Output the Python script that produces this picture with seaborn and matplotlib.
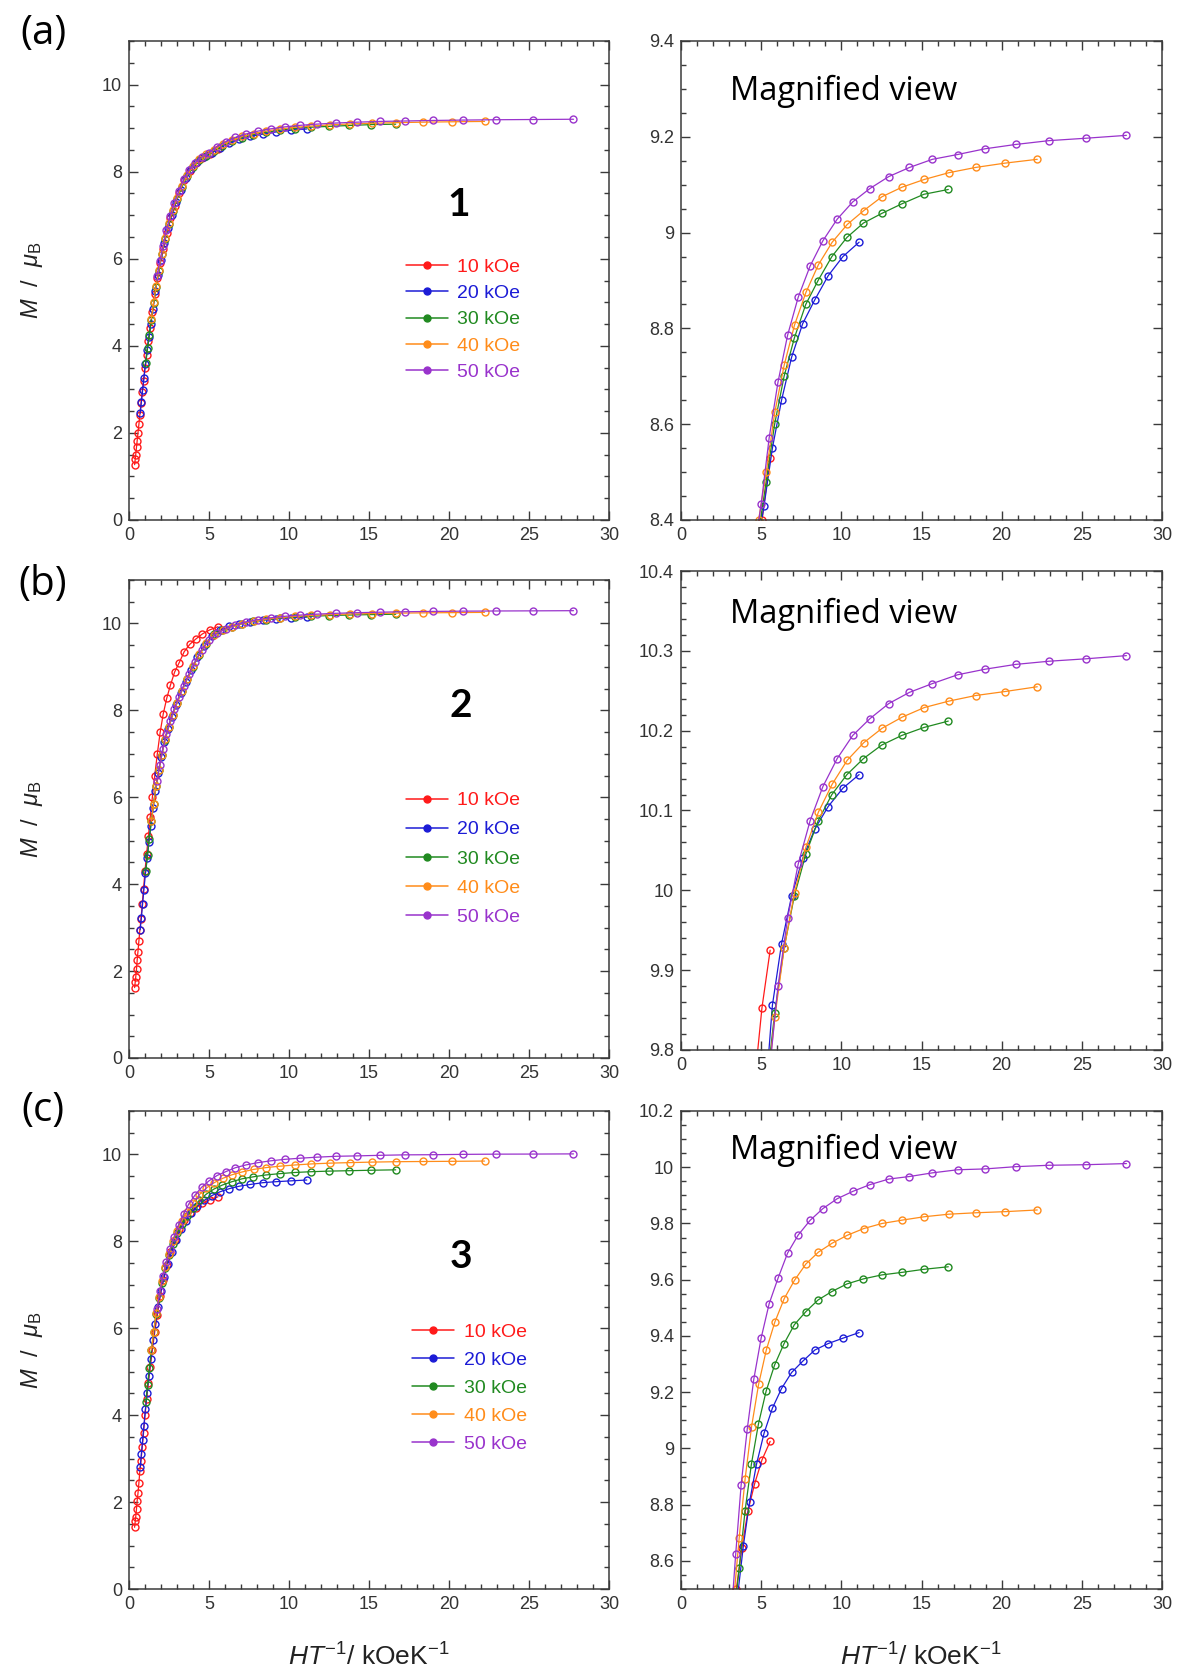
import matplotlib
matplotlib.use('Agg')
import matplotlib.pyplot as plt
import numpy as np
import pandas as pd
import seaborn as sns
from matplotlib.ticker import MultipleLocator, FuncFormatter
from matplotlib.lines import Line2D

# ---------------- data ----------------
fields = ['10 kOe', '20 kOe', '30 kOe', '40 kOe', '50 kOe']
colors = ['#ff1a1a', '#1c1cd6', '#218a21', '#ff8c1a', '#9933cc']

# H/T values (kOe/K) for each field
X10 = [0.35, 0.39, 0.42, 0.47, 0.51, 0.56, 0.62, 0.68, 0.75, 0.83, 0.91, 1.00, 1.10, 1.21, 1.33,
       1.46, 1.61, 1.77, 1.95, 2.14, 2.36, 2.59, 2.85, 3.14, 3.45, 3.80, 4.17, 4.59, 5.05, 5.56]
X20 = [0.70, 0.77, 0.85, 0.93, 1.03, 1.13, 1.24, 1.36, 1.50, 1.65, 1.82, 2.00, 2.20, 2.42, 2.66,
       2.93, 3.22, 3.54, 3.89, 4.28, 4.71, 5.18, 5.70, 6.27, 6.90, 7.59, 8.35, 9.18, 10.10, 11.11]
X30 = [1.05, 1.16, 1.27, 1.40, 1.54, 1.69, 1.86, 2.05, 2.25, 2.48, 2.73, 3.00, 3.30, 3.63, 3.99,
       4.39, 4.83, 5.31, 5.84, 6.43, 7.07, 7.78, 8.55, 9.41, 10.35, 11.38, 12.52, 13.77, 15.15, 16.67]
X40 = [1.40, 1.54, 1.70, 1.86, 2.05, 2.26, 2.48, 2.73, 3.00, 3.30, 3.63, 4.00, 4.40, 4.84, 5.32,
       5.85, 6.44, 7.08, 7.79, 8.57, 9.43, 10.37, 11.40, 12.54, 13.80, 15.18, 16.70, 18.37, 20.20, 22.22]
X50 = [1.75, 1.93, 2.12, 2.33, 2.56, 2.82, 3.10, 3.41, 3.75, 4.13, 4.54, 5.00, 5.50, 6.05, 6.65,
       7.31, 8.05, 8.85, 9.74, 10.71, 11.78, 12.96, 14.25, 15.68, 17.25, 18.97, 20.87, 22.96, 25.25, 27.78]

# compound 1
M1_10 = [1.27, 1.40, 1.50, 1.68, 1.82, 2.00, 2.20, 2.42, 2.68, 2.95, 3.20, 3.50, 3.80, 4.10, 4.42,
         4.78, 5.18, 5.55, 5.90, 6.22, 6.60, 6.93, 7.22, 7.52, 7.80, 8.02, 8.20, 8.32, 8.40, 8.53]
M1_20 = [2.45, 2.70, 2.98, 3.25, 3.58, 3.90, 4.20, 4.50, 4.85, 5.25, 5.62, 5.98, 6.35, 6.70, 7.00,
         7.30, 7.58, 7.85, 8.06, 8.22, 8.33, 8.43, 8.55, 8.65, 8.74, 8.81, 8.86, 8.91, 8.95, 8.98]
M1_30 = [3.60, 3.95, 4.25, 4.60, 4.98, 5.35, 5.72, 6.10, 6.45, 6.80, 7.10, 7.38, 7.65, 7.90, 8.10,
         8.26, 8.37, 8.48, 8.60, 8.70, 8.78, 8.85, 8.90, 8.95, 8.99, 9.02, 9.04, 9.06, 9.08, 9.09]
M1_40 = [4.62, 5.00, 5.38, 5.74, 6.12, 6.48, 6.82, 7.12, 7.40, 7.67, 7.92, 8.12, 8.28, 8.40, 8.50,
         8.625, 8.724, 8.807, 8.875, 8.933, 8.98, 9.017, 9.046, 9.075, 9.095, 9.111, 9.125, 9.136, 9.145, 9.153]
M1_50 = [5.60, 5.95, 6.30, 6.65, 6.97, 7.27, 7.55, 7.82, 8.03, 8.20, 8.33, 8.433, 8.572, 8.688, 8.786,
         8.865, 8.930, 8.983, 9.028, 9.064, 9.092, 9.117, 9.136, 9.153, 9.163, 9.175, 9.184, 9.192, 9.197, 9.203]

# compound 2
M2_10 = [1.62, 1.75, 1.86, 2.05, 2.25, 2.45, 2.70, 2.95, 3.20, 3.55, 3.90, 4.30, 4.70, 5.10, 5.55,
         6.00, 6.50, 7.00, 7.50, 7.92, 8.28, 8.58, 8.88, 9.10, 9.35, 9.52, 9.64, 9.76, 9.853, 9.925]
M2_20 = [2.95, 3.22, 3.55, 3.87, 4.25, 4.60, 4.97, 5.35, 5.75, 6.15, 6.55, 6.92, 7.28, 7.58, 7.85,
         8.12, 8.40, 8.66, 8.92, 9.22, 9.48, 9.72, 9.856, 9.933, 9.993, 10.04, 10.077, 10.105, 10.128, 10.145]
M2_30 = [4.30, 4.68, 5.05, 5.45, 5.85, 6.25, 6.62, 6.98, 7.32, 7.62, 7.90, 8.17, 8.45, 8.72, 9.00,
         9.28, 9.53, 9.75, 9.846, 9.928, 9.993, 10.045, 10.087, 10.12, 10.145, 10.165, 10.182, 10.194, 10.204, 10.212]
M2_40 = [5.45, 5.85, 6.27, 6.62, 6.98, 7.33, 7.62, 7.90, 8.17, 8.45, 8.72, 9.01, 9.29, 9.54, 9.74,
         9.841, 9.928, 9.997, 10.054, 10.098, 10.133, 10.163, 10.185, 10.203, 10.217, 10.229, 10.237, 10.244, 10.249, 10.255]
M2_50 = [6.37, 6.75, 7.12, 7.45, 7.75, 8.03, 8.30, 8.56, 8.84, 9.12, 9.40, 9.61, 9.77, 9.88, 9.965,
         10.033, 10.087, 10.130, 10.165, 10.194, 10.215, 10.234, 10.248, 10.259, 10.270, 10.277, 10.283, 10.287, 10.290, 10.294]

# compound 3
M3_10 = [1.42, 1.56, 1.66, 1.85, 2.03, 2.20, 2.45, 2.72, 2.95, 3.27, 3.60, 4.00, 4.38, 4.75, 5.10,
         5.50, 5.92, 6.30, 6.75, 7.12, 7.45, 7.75, 8.02, 8.28, 8.50, 8.646, 8.776, 8.874, 8.959, 9.025]
M3_20 = [2.80, 3.10, 3.42, 3.75, 4.15, 4.52, 4.90, 5.30, 5.72, 6.10, 6.50, 6.85, 7.18, 7.48, 7.75,
         8.02, 8.28, 8.48, 8.654, 8.811, 8.944, 9.054, 9.143, 9.213, 9.27, 9.31, 9.35, 9.373, 9.392, 9.412]
M3_30 = [4.30, 4.70, 5.08, 5.50, 5.92, 6.32, 6.70, 7.05, 7.38, 7.68, 7.95, 8.20, 8.40, 8.573, 8.776,
         8.944, 9.087, 9.204, 9.297, 9.373, 9.44, 9.486, 9.528, 9.558, 9.585, 9.603, 9.617, 9.626, 9.637, 9.646]
M3_40 = [5.50, 5.92, 6.35, 6.72, 7.08, 7.42, 7.72, 8.00, 8.25, 8.47, 8.682, 8.892, 9.077, 9.228, 9.35,
         9.449, 9.533, 9.598, 9.656, 9.698, 9.73, 9.758, 9.782, 9.80, 9.812, 9.824, 9.833, 9.838, 9.842, 9.848]
M3_50 = [6.45, 6.85, 7.20, 7.52, 7.82, 8.10, 8.38, 8.623, 8.87, 9.068, 9.246, 9.393, 9.515, 9.605, 9.695,
         9.759, 9.811, 9.853, 9.888, 9.914, 9.938, 9.958, 9.967, 9.98, 9.991, 9.994, 10.002, 10.007, 10.009, 10.013]

compound_labels = ['1', '2', '3']
panel_letters = ['(a)', '(b)', '(c)']
mag_ylims = [(8.4, 9.4), (9.8, 10.4), (8.5, 10.2)]
mag_major = [0.2, 0.1, 0.2]
mag_minor = [0.05, 0.02, 0.05]

XS = [X10, X20, X30, X40, X50]
MS = [[M1_10, M1_20, M1_30, M1_40, M1_50],
      [M2_10, M2_20, M2_30, M2_40, M2_50],
      [M3_10, M3_20, M3_30, M3_40, M3_50]]


def frame(mlists):
    parts = [pd.DataFrame({'x': xs, 'M': m, 'field': f}) for f, xs, m in zip(fields, XS, mlists)]
    return pd.concat(parts, ignore_index=True)


# ---------------- style ----------------
sns.set_theme(style='ticks')
plt.rcParams['font.family'] = ['Liberation Sans', 'DejaVu Sans']
plt.rcParams['mathtext.fontset'] = 'custom'
plt.rcParams['mathtext.rm'] = 'Liberation Sans'
plt.rcParams['mathtext.it'] = 'Liberation Sans:italic'
plt.rcParams['mathtext.bf'] = 'Liberation Sans:bold'

W, H = 1177, 1675
fig = plt.figure(figsize=(W / 100, H / 100), dpi=100)


def fr(left, top, right, bottom):
    return [left / W, 1 - bottom / H, (right - left) / W, (bottom - top) / H]


left_boxes = [(129, 41, 609, 520), (129, 580, 609, 1058), (129, 1111, 609, 1589)]
right_boxes = [(681, 41, 1162, 520), (681, 571, 1162, 1050), (681, 1111, 1162, 1589)]

fmt = FuncFormatter(lambda v, p: f'{round(v, 3):g}')
edge = '#3a3a3a'


def style(ax, ylim, ymaj, ymin):
    ax.set_xlim(0, 30)
    ax.set_ylim(*ylim)
    ax.xaxis.set_major_locator(MultipleLocator(5))
    ax.xaxis.set_minor_locator(MultipleLocator(1))
    ax.yaxis.set_major_locator(MultipleLocator(ymaj))
    ax.yaxis.set_minor_locator(MultipleLocator(ymin))
    ax.xaxis.set_major_formatter(fmt)
    ax.yaxis.set_major_formatter(fmt)
    ax.tick_params(which='both', direction='in', top=True, right=True,
                   colors=edge, labelcolor='#333333', labelsize=13)
    ax.tick_params(which='major', length=6.5, width=1.0, pad=5)
    ax.tick_params(which='minor', length=3.5, width=1.0)
    for s in ax.spines.values():
        s.set_color(edge)
        s.set_linewidth(1.1)
    ax.set_xlabel('')
    ax.set_ylabel('')


def draw(ax, df):
    for f, c in zip(fields, colors):
        sub = df[df['field'] == f]
        sns.lineplot(data=sub, x='x', y='M', ax=ax, color=c, sort=False, estimator=None,
                     marker='o', markersize=5, markerfacecolor='none', markeredgecolor=c,
                     markeredgewidth=1.0, linewidth=0.9, legend=False)


legend_anchor = [(0.577, 0.547), (0.577, 0.557), (0.59, 0.556)]
legend_spacing = [0.45, 0.59, 0.53]
num_pos = [(0.6875, 0.658), (0.692, 0.738), (0.692, 0.695)]
mag_text_y = [0.895, 0.91, 0.918]
letter_y = [34, 585, 1111]

for i in range(3):
    df = frame(MS[i])
    axL = fig.add_axes(fr(*left_boxes[i]))
    axR = fig.add_axes(fr(*right_boxes[i]))
    draw(axL, df)
    draw(axR, df)
    style(axL, (0, 11), 2, 0.5)
    style(axR, mag_ylims[i], mag_major[i], mag_minor[i])

    handles = [Line2D([], [], color=c, marker='o', markersize=5, lw=1.1) for c in colors]
    axL.legend(handles, fields, loc='upper left', bbox_to_anchor=legend_anchor[i],
               frameon=False, fontsize=14, labelcolor=colors, handlelength=2.15,
               handletextpad=0.5, labelspacing=legend_spacing[i], borderpad=0, borderaxespad=0)

    axL.text(num_pos[i][0], num_pos[i][1], compound_labels[i], transform=axL.transAxes,
             fontsize=28, fontweight='bold', family='Lato', ha='center', va='center', color='black')
    axR.text(0.102, mag_text_y[i], 'Magnified view', transform=axR.transAxes,
             fontsize=23.5, family='Open Sans', ha='left', va='center', color='black')

    lt, lb = left_boxes[i][1], left_boxes[i][3]
    fig.text(32 / W, 1 - (lt + lb) / 2 / H, r'$M$  /  $\mu_{\mathrm{B}}$', rotation=90,
             ha='center', va='center', fontsize=17, color='#222222')
    fig.text(43 / W, 1 - letter_y[i] / H, panel_letters[i], fontsize=29, family='Open Sans',
             ha='center', va='center', color='black')

for cx in (369, 921):
    fig.text(cx / W, 1 - 1657 / H, r'$HT^{-1}$/ kOeK$^{-1}$', ha='center', va='center',
             fontsize=19, color='#222222')

fig.savefig('out.png', dpi=100)
